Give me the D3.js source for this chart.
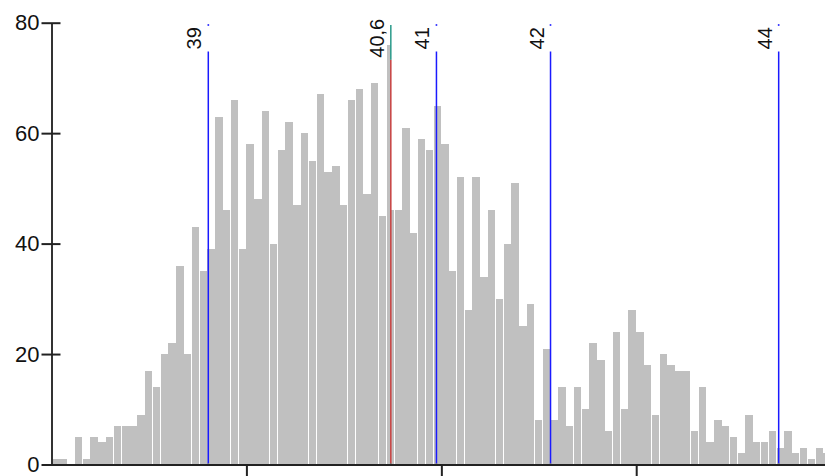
<!DOCTYPE html>
<html>
<head>
<meta charset="utf-8">
<script src="https://cdn.jsdelivr.net/npm/d3@7"></script>
<style>
  html, body { margin: 0; padding: 0; background: #fff; }
  svg { display: block; }
  text { font-family: "Liberation Sans", Arial, sans-serif; }
</style>
</head>
<body>
<svg id="chart" width="825" height="476"></svg>
<script>
// ---- data ----
const binStart = 37.6255;
const binWidth = 0.06834;
const counts = [1, 1, 0, 5, 1, 5, 4, 5, 7, 7,
                7, 9, 17, 14, 20, 22, 36, 20, 43, 35,
                39, 63, 46, 66, 39, 58, 48, 64, 40, 57,
                62, 47, 60, 55, 67, 53, 54, 47, 66, 68,
                49, 69, 45, 46, 46, 61, 42, 59, 57, 65,
                58, 35, 52, 28, 52, 34, 46, 30, 40, 51,
                25, 29, 8, 21, 8, 14, 7, 14, 10, 22,
                19, 6, 24, 10, 28, 24, 18, 9, 20, 18,
                17, 17, 6, 14, 4, 8, 7, 5, 2, 9,
                4, 4, 6, 3, 6, 2, 3, 1, 3, 2];
// narrow bar just left of the mean line (bin 43 up to 40.6)
const peakBin = [43];
const peakCount = [76];
const markerValues = [39, 40.6, 41, 42, 44];
const markerLabels = ["39", "40,6", "41", "42", "44"];
const markerKinds  = ["limit", "mean", "limit", "limit", "limit"];
const yTickValues = [0, 20, 40, 60, 80];
const xTickValues = [39.334, 41.043, 42.751];

// ---- layout ----
const svg = d3.select("#chart");
const plotLeft = 51.5, plotBottom = 464.5, plotTop = 22.7;
const pitch = 7.796;
const x = d3.scaleLinear()
  .domain([binStart, binStart + counts.length * binWidth])
  .range([plotLeft, plotLeft + counts.length * pitch]);
const y = d3.scaleLinear().domain([0, 80]).range([plotBottom, plotTop]);

// bars
const barG = svg.append("g");
barG.selectAll("rect.bin")
  .data(counts)
  .join("rect")
  .attr("class", "bin")
  .attr("x", (d, i) => x(binStart + i * binWidth))
  .attr("width", (d, i) => x(binStart + (i + 1) * binWidth) - x(binStart + i * binWidth) - 0.45)
  .attr("y", d => y(d))
  .attr("height", d => y(0) - y(d))
  .attr("fill", "#c0c0c0")
  .attr("shape-rendering", "crispEdges");

const meanValue = markerValues[markerKinds.indexOf("mean")];
barG.selectAll("rect.peak")
  .data(peakCount)
  .join("rect")
  .attr("class", "peak")
  .attr("x", (d, i) => x(binStart + peakBin[i] * binWidth))
  .attr("width", (d, i) => x(meanValue) - x(binStart + peakBin[i] * binWidth))
  .attr("y", d => y(d))
  .attr("height", d => y(0) - y(d))
  .attr("fill", "#c0c0c0")
  .attr("shape-rendering", "crispEdges");

// markers
const colorLine = k => k === "mean" ? "#c84040" : "#1a1aff";
const mk = svg.append("g");
markerValues.forEach((v, i) => {
  const kind = markerKinds[i];
  const px = x(v);
  const yTop = kind === "mean" ? y(73.3) : y(74.8);
  mk.append("line")
    .attr("x1", px).attr("x2", px)
    .attr("y1", yTop).attr("y2", y(0))
    .attr("stroke", colorLine(kind))
    .attr("stroke-width", 1.5);
  if (kind === "mean") {
    mk.append("line")
      .attr("x1", px).attr("x2", px)
      .attr("y1", y(79.6)).attr("y2", yTop)
      .attr("stroke", "#2a9a8a")
      .attr("stroke-width", 1.5);
    mk.append("circle").attr("cx", px).attr("cy", y(0)).attr("r", 1).attr("fill", "#2ab0b0");
  } else {
    mk.append("circle").attr("cx", px).attr("cy", y(79.6)).attr("r", 1).attr("fill", "#3333ff");
    mk.append("circle").attr("cx", px).attr("cy", y(0)).attr("r", 1).attr("fill", "#e8e020");
  }
  mk.append("text")
    .attr("transform", `translate(${px - 7},${yTop - 2}) rotate(-90)`)
    .attr("text-anchor", "start")
    .attr("font-size", 20)
    .attr("fill", "#111")
    .text(markerLabels[i]);
});

// x axis
const xAxis = svg.append("g")
  .attr("transform", `translate(0,${plotBottom})`)
  .call(d3.axisBottom(x).tickValues(xTickValues).tickSize(14).tickSizeOuter(0).tickFormat(() => ""));
xAxis.select(".domain").attr("stroke", "#222").attr("stroke-width", 2);
xAxis.selectAll(".tick line").attr("stroke", "#222").attr("stroke-width", 2);

// y axis
const yAxis = svg.append("g")
  .attr("transform", `translate(${plotLeft},0)`)
  .call(d3.axisLeft(y).tickValues(yTickValues).tickSize(10).tickSizeOuter(0).tickPadding(2));
yAxis.select(".domain").attr("stroke", "#333").attr("stroke-width", 2);
yAxis.selectAll(".tick line").attr("x1", -10).attr("x2", 9).attr("stroke", "#222").attr("stroke-width", 2);
yAxis.selectAll(".tick text")
  .attr("font-size", 22)
  .attr("fill", "#111")
  .attr("font-family", "'Liberation Sans', Arial, sans-serif");
</script>
</body>
</html>
